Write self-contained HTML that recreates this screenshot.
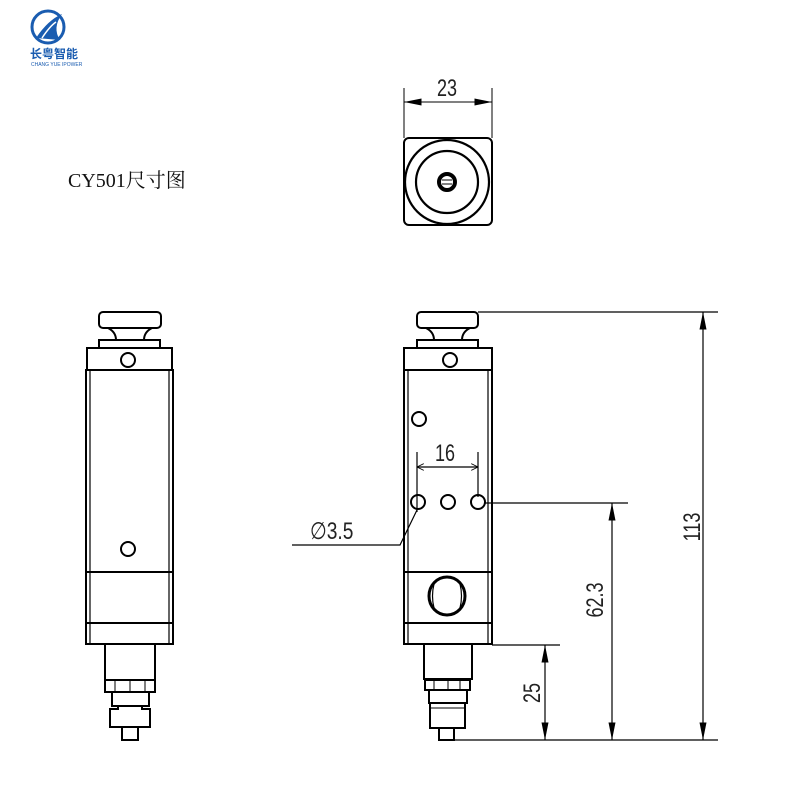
<!DOCTYPE html>
<html><head><meta charset="utf-8"><style>
html,body{margin:0;padding:0;background:#fff;width:800px;height:800px;overflow:hidden}
svg{display:block}
.d{font-family:"Liberation Sans Narrow","Liberation Sans",sans-serif;font-size:24px;fill:#222}
</style></head><body>
<svg width="800" height="800" viewBox="0 0 800 800" xmlns="http://www.w3.org/2000/svg">
<defs>
<marker id="a" viewBox="0 0 10 4" refX="10" refY="2" markerWidth="18" markerHeight="7" orient="auto-start-reverse" markerUnits="userSpaceOnUse"><path d="M0,0L10,2L0,4z" fill="#000"/></marker>
<marker id="o" viewBox="0 0 10 10" refX="10" refY="5" markerWidth="7" markerHeight="7" orient="auto-start-reverse" markerUnits="userSpaceOnUse"><path d="M0,0L10,5L0,10" fill="none" stroke="#000" stroke-width="1.2"/></marker>
</defs>
<g>
<ellipse cx="48" cy="27" rx="16" ry="16" fill="none" stroke="#1a5cb0" stroke-width="3"/>
<path d="M36,38 Q48,20 62,14 Q52,28 60,40 Z" fill="#1a5cb0"/>
<path d="M42,38 Q50,26 56,22" fill="none" stroke="#fff" stroke-width="1.5"/>
<text x="30" y="58" font-family="'Noto Sans CJK SC',sans-serif" font-size="12" font-weight="bold" fill="#1a5cb0">长粤智能</text>
<text x="31" y="66" font-family="'Liberation Sans',sans-serif" font-size="5" fill="#1a5cb0">CHANG YUE IPOWER</text>
</g>
<text x="68" y="187" font-family="'Liberation Serif','Noto Serif CJK SC',serif" font-size="20" fill="#111">CY501尺寸图</text>

<g fill="none" stroke="#000" stroke-width="2">
<line x1="404" y1="88" x2="404" y2="138" stroke-width="1"/>
<line x1="492" y1="88" x2="492" y2="138" stroke-width="1"/>
<line x1="404" y1="102" x2="492" y2="102" stroke-width="1" marker-start="url(#a)" marker-end="url(#a)"/>
<rect x="404" y="138" width="88" height="87" rx="5"/>
<circle cx="447" cy="182" r="42" stroke-width="2.2"/>
<circle cx="447" cy="182" r="31" stroke-width="2.2"/>
<circle cx="447" cy="182" r="8" stroke-width="4"/>
<line x1="442" y1="180" x2="452" y2="180" stroke-width="1"/>
<line x1="442" y1="184" x2="452" y2="184" stroke-width="1"/>

<rect x="99" y="312" width="62" height="16" rx="4"/>
<path d="M108,328 Q116,332 116,340 M152,328 Q144,332 144,340"/>
<rect x="99" y="340" width="61" height="8"/>
<rect x="87" y="348" width="85" height="22"/>
<circle cx="128" cy="360" r="7"/>
<rect x="86" y="370" width="87" height="274"/>
<line x1="90" y1="370" x2="90" y2="644" stroke-width="1.2"/>
<line x1="169" y1="370" x2="169" y2="644" stroke-width="1.2"/>
<line x1="86" y1="572" x2="173" y2="572"/>
<line x1="86" y1="623" x2="173" y2="623"/>
<circle cx="128" cy="549" r="7"/>
<rect x="105" y="644" width="50" height="36"/>
<rect x="105" y="680" width="50" height="12"/>
<line x1="115" y1="680" x2="115" y2="692" stroke-width="1"/><line x1="130" y1="680" x2="130" y2="692" stroke-width="1"/><line x1="145" y1="680" x2="145" y2="692" stroke-width="1"/>
<rect x="112" y="692" width="37" height="14"/>
<path d="M110,727 V709 H118 V706 H142 V709 H150 V727 Z"/>
<rect x="122" y="727" width="16" height="13"/>

<rect x="417" y="312" width="61" height="16" rx="4"/>
<path d="M426,328 Q434,332 434,340 M470,328 Q462,332 462,340"/>
<rect x="417" y="340" width="61" height="8"/>
<rect x="404" y="348" width="88" height="22"/>
<circle cx="450" cy="360" r="7"/>
<rect x="404" y="370" width="88" height="274"/>
<line x1="408" y1="370" x2="408" y2="644" stroke-width="1.2"/>
<line x1="488" y1="370" x2="488" y2="644" stroke-width="1.2"/>
<line x1="404" y1="572" x2="492" y2="572"/>
<line x1="404" y1="623" x2="492" y2="623"/>
<circle cx="419" cy="419" r="7"/>
<circle cx="418" cy="502" r="7"/>
<circle cx="448" cy="502" r="7"/>
<circle cx="478" cy="502" r="7"/>
<ellipse cx="447" cy="596" rx="18" ry="19" stroke-width="3"/>
<path d="M434,584 Q431,596 434,608 M460,584 Q463,596 460,608" stroke-width="1.2"/>
<rect x="424" y="644" width="48" height="35"/>
<rect x="425" y="680" width="45" height="10"/>
<line x1="434" y1="680" x2="434" y2="690" stroke-width="1"/><line x1="448" y1="680" x2="448" y2="690" stroke-width="1"/><line x1="460" y1="680" x2="460" y2="690" stroke-width="1"/>
<rect x="429" y="690" width="38" height="13"/>
<rect x="430" y="703" width="35" height="25"/>
<line x1="430" y1="708" x2="465" y2="708" stroke-width="1"/>
<rect x="439" y="728" width="15" height="12"/>

<g stroke-width="1.2">
<line x1="417" y1="452" x2="417" y2="512"/>
<line x1="478" y1="452" x2="478" y2="497"/>
<line x1="417" y1="467" x2="478" y2="467" marker-start="url(#o)" marker-end="url(#o)"/>
<polyline points="292,545 400,545 417,510"/>
<line x1="485" y1="503" x2="628" y2="503"/>
<line x1="478" y1="312" x2="718" y2="312"/>
<line x1="455" y1="740" x2="718" y2="740"/>
<line x1="492" y1="645" x2="560" y2="645"/>
<line x1="703" y1="312" x2="703" y2="740" marker-start="url(#a)" marker-end="url(#a)"/>
<line x1="612" y1="503" x2="612" y2="740" marker-start="url(#a)" marker-end="url(#a)"/>
<line x1="545" y1="645" x2="545" y2="740" marker-start="url(#a)" marker-end="url(#a)"/>
</g>
</g>
<g class="d">
<text transform="translate(447,96) scale(0.75,1)" text-anchor="middle">23</text>
<text transform="translate(445,461) scale(0.75,1)" text-anchor="middle">16</text>
<text transform="translate(310,539) scale(0.8,1)">∅3.5</text>
<text transform="translate(700,527) rotate(-90) scale(0.75,1)" text-anchor="middle">113</text>
<text transform="translate(603,600) rotate(-90) scale(0.75,1)" text-anchor="middle">62.3</text>
<text transform="translate(540,693) rotate(-90) scale(0.75,1)" text-anchor="middle">25</text>
</g>
</svg>
</body></html>
